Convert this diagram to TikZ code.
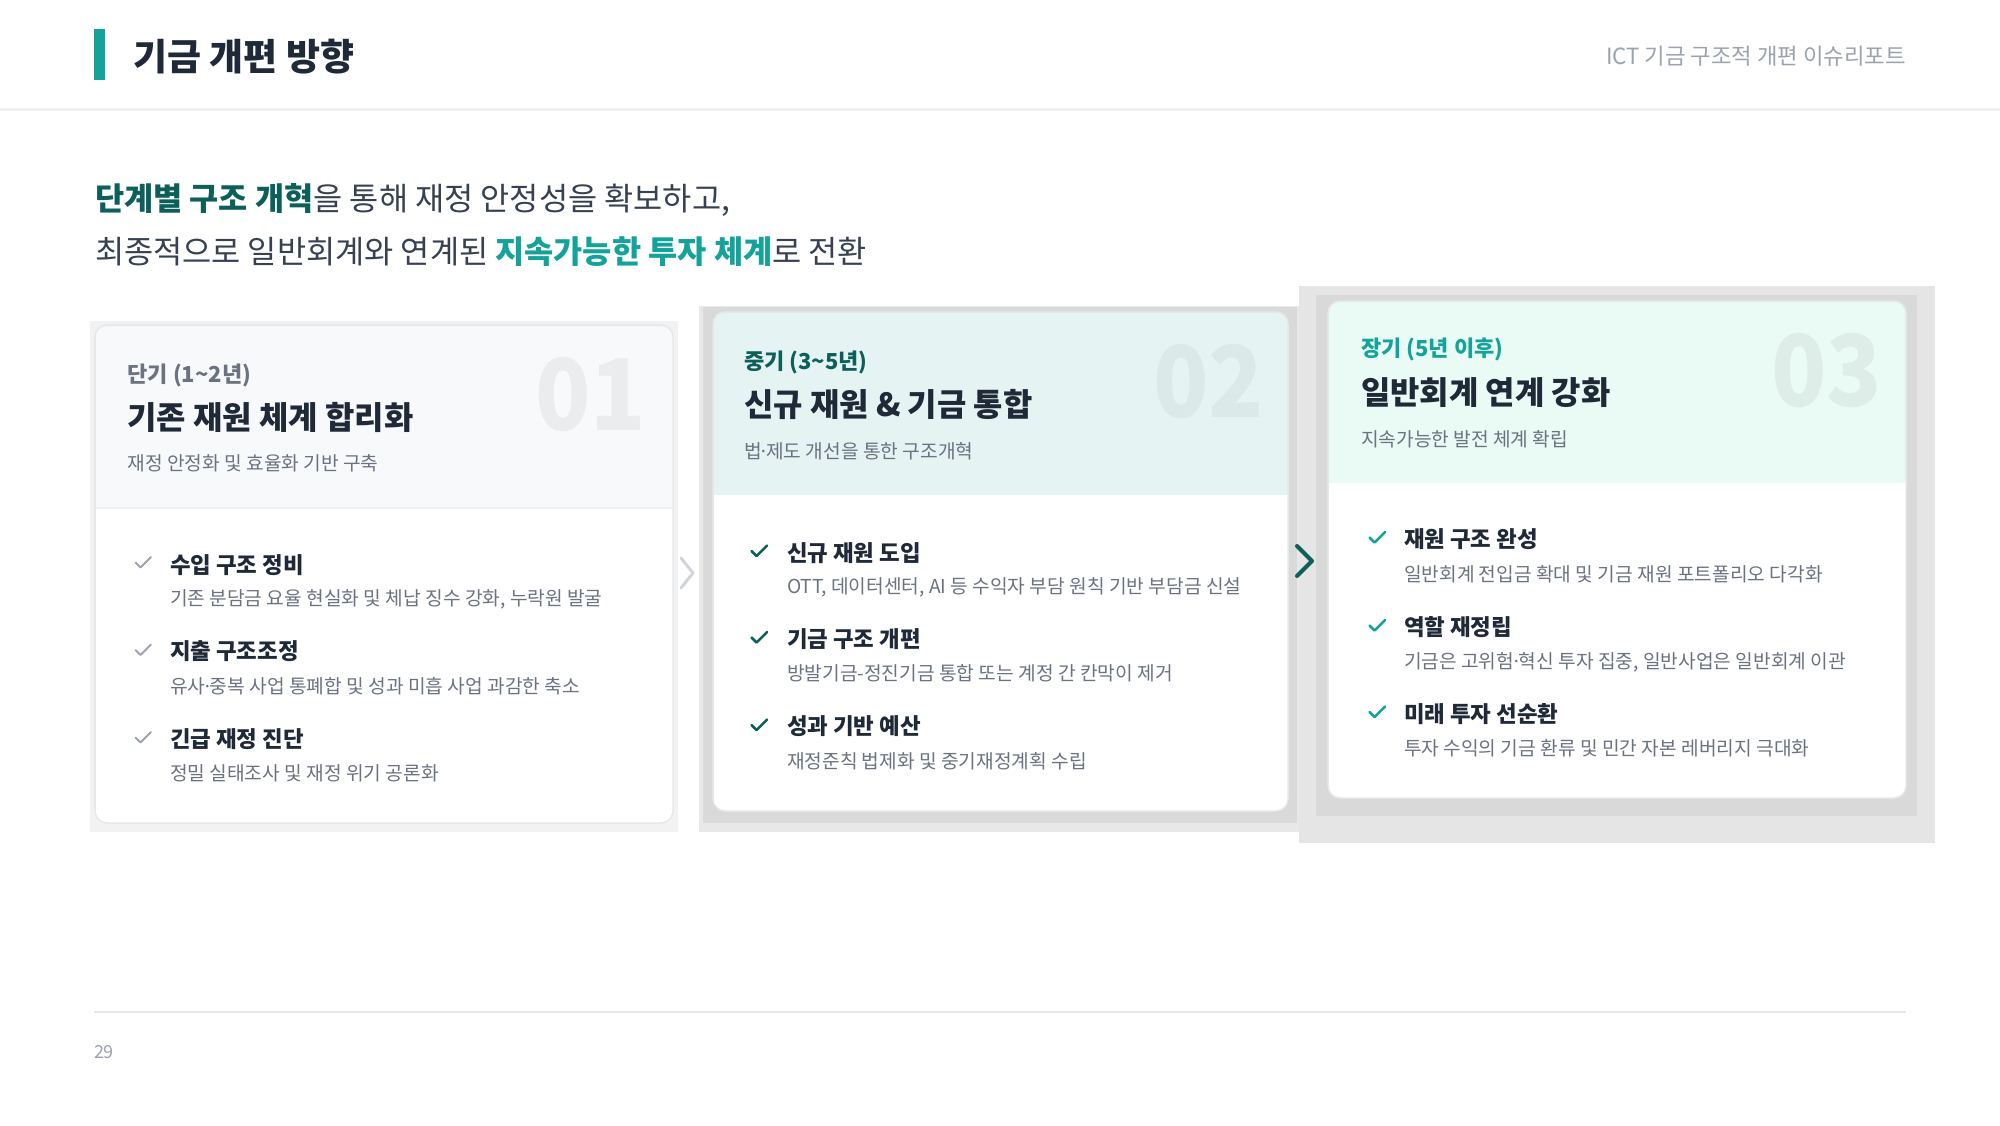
\documentclass[tikz,border=0pt]{standalone}
\usepackage{fontspec}
\setmainfont{Noto Sans CJK KR}
\newfontfamily\numfont{Noto Sans CJK KR}[FakeStretch=0.92]
\definecolor{teal1}{HTML}{14A39A}
\definecolor{tealdark}{HTML}{0D5F5A}
\definecolor{ink}{HTML}{1F2937}
\definecolor{bodytext}{HTML}{374151}
\definecolor{muted}{HTML}{6B7280}
\definecolor{faint}{HTML}{9CA3AF}
\definecolor{headA}{HTML}{F8F9FA}
\definecolor{headB}{HTML}{E5F3F3}
\definecolor{headC}{HTML}{EAFAF4}
\definecolor{shA}{HTML}{F2F2F2}
\definecolor{shB}{HTML}{E8E8E8}
\definecolor{shC}{HTML}{D9D9D9}
\definecolor{shD}{HTML}{E5E5E5}
\definecolor{cardline}{HTML}{E5E7EB}
\definecolor{sepline}{HTML}{EEF0F2}
\definecolor{chevlight}{HTML}{D1D5DB}
\newcommand\pxs[1]{\fontsize{#1}{#1}\selectfont}
\newcommand\mdot{\kern-0.16em·\kern-0.16em}
\begin{document}
\begin{tikzpicture}[x=1pt,y=-1pt,
  every node/.style={inner sep=0pt,outer sep=0pt},
  txt/.style={anchor=base west},
  lbl/.style={txt,font=\pxs{22}\bfseries},
  ttl/.style={txt,font=\pxs{31.9}\bfseries,text=ink},
  sub/.style={txt,font=\pxs{19.2},text=muted},
  itt/.style={txt,font=\pxs{22.4}\bfseries,text=ink},
  itd/.style={txt,font=\pxs{19.2},text=muted},
  bignum/.style={anchor=base east,font=\numfont\pxs{99}\bfseries,text=black,text opacity=0.05},
  chk/.style={line width=2.5pt,line cap=round,line join=round},
  cardedge/.style={draw=cardline,line width=1.5pt,rounded corners=12pt}]
\useasboundingbox[fill=white] (0,0) rectangle (2000,1125);

% ---------- page header ----------
\fill[teal1] (94,29) rectangle (105,80);
\node[txt,font=\pxs{37}\bfseries,text=ink] (pagetitle) at (133,70.2) {기금 개편 방향};
\node[anchor=base east,font=\pxs{22.3},text=faint] (report) at (1906,64.5) {ICT 기금 구조적 개편 이슈리포트};
\fill[sepline] (0,107.5) rectangle (2000,110.5);

% ---------- intro ----------
\node[txt,font=\pxs{31.7},text=bodytext] (intro1) at (95,210)
  {\textcolor{tealdark}{\bfseries 단계별 구조 개혁}을 통해 재정 안정성을 확보하고,};
\node[txt,font=\pxs{31.7},text=bodytext] (intro2) at (95,263)
  {최종적으로 일반회계와 연계된 \textcolor{teal1}{\bfseries 지속가능한 투자 체계}로 전환};

% ---------- card 1 ----------
\fill[shA] (90,321) rectangle (678,832);
\begin{scope}
  \clip[rounded corners=12pt] (95,325) rectangle (673,823);
  \fill[white] (95,325) rectangle (673,823);
  \fill[headA] (95,325) rectangle (673,508);
  \draw[sepline,line width=1.2pt] (95,508) -- (673,508);
\end{scope}
\draw[cardedge] (95,325) rectangle (673,823);
\node[bignum] (num1) at (646,430) {01};
\node[lbl,text=muted] (c1label) at (127.5,382.4) {단기 (1\textasciitilde2년)};
\node[ttl] (c1title) at (127.5,429.1) {기존 재원 체계 합리화};
\node[sub] (c1sub) at (127.5,470.9) {재정 안정화 및 효율화 기반 구축};
\draw[chk,faint,line width=2pt,shift={(143,562.5)}] (-7.5,0) -- (-2.5,5) -- (8,-5.5);
\draw[chk,faint,line width=2pt,shift={(143,650)}] (-7.5,0) -- (-2.5,5) -- (8,-5.5);
\draw[chk,faint,line width=2pt,shift={(143,737.5)}] (-7.5,0) -- (-2.5,5) -- (8,-5.5);
\node[itt] (c1i1) at (170,573) {수입 구조 정비};
\node[itd] (c1d1) at (170,605.3) {기존 분담금 요율 현실화 및 체납 징수 강화, 누락원 발굴};
\node[itt] (c1i2) at (170,659.7) {지출 구조조정};
\node[itd] (c1d2) at (170,693) {유사\mdot 중복 사업 통폐합 및 성과 미흡 사업 과감한 축소};
\node[itt] (c1i3) at (170,747.5) {긴급 재정 진단};
\node[itd] (c1d3) at (170,780.8) {정밀 실태조사 및 재정 위기 공론화};

% ---------- card 2 ----------
\fill[shB] (699,306) rectangle (1301,832);
\fill[shC] (703,307) rectangle (1297,823);
\begin{scope}
  \clip[rounded corners=12pt] (713,312) rectangle (1288,811);
  \fill[white] (713,312) rectangle (1288,811);
  \fill[headB] (713,312) rectangle (1288,495);
\end{scope}
\draw[cardedge] (713,312) rectangle (1288,811);
\node[bignum,text opacity=0.04] (num2) at (1264,417) {02};
\node[lbl,text=tealdark] (c2label) at (744,369.8) {중기 (3\textasciitilde5년)};
\node[ttl] (c2title) at (744,416.1) {신규 재원 \& 기금 통합};
\node[sub] (c2sub) at (744,458.3) {법\mdot 제도 개선을 통한 구조개혁};
\draw[chk,tealdark,shift={(759,551)}] (-7.5,0) -- (-2.5,5) -- (8,-5.5);
\draw[chk,tealdark,shift={(759,637.5)}] (-7.5,0) -- (-2.5,5) -- (8,-5.5);
\draw[chk,tealdark,shift={(759,725)}] (-7.5,0) -- (-2.5,5) -- (8,-5.5);
\node[itt] (c2i1) at (787,561) {신규 재원 도입};
\node[itd] (c2d1) at (787,593) {OTT, 데이터센터, AI 등 수익자 부담 원칙 기반 부담금 신설};
\node[itt] (c2i2) at (787,647.5) {기금 구조 개편};
\node[itd] (c2d2) at (787,680.3) {방발기금-정진기금 통합 또는 계정 간 칸막이 제거};
\node[itt] (c2i3) at (787,734.9) {성과 기반 예산};
\node[itd] (c2d3) at (787,768) {재정준칙 법제화 및 중기재정계획 수립};

% ---------- card 3 ----------
\fill[shD] (1299,286) rectangle (1935,843);
\fill[shC] (1316,295) rectangle (1917,816);
\begin{scope}
  \clip[rounded corners=12pt] (1328,301) rectangle (1906,798);
  \fill[white] (1328,301) rectangle (1906,798);
  \fill[headC] (1328,301) rectangle (1906,482.7);
\end{scope}
\draw[cardedge] (1328,301) rectangle (1906,798);
\node[bignum] (num3) at (1882,406) {03};
\node[lbl,text=teal1] (c3label) at (1361,356.8) {장기 (5년 이후)};
\node[ttl] (c3title) at (1361,404.9) {일반회계 연계 강화};
\node[sub] (c3sub) at (1361,446.3) {지속가능한 발전 체계 확립};
\draw[chk,teal1,shift={(1377,537.5)}] (-7.5,0) -- (-2.5,5) -- (8,-5.5);
\draw[chk,teal1,shift={(1377,625.5)}] (-7.5,0) -- (-2.5,5) -- (8,-5.5);
\draw[chk,teal1,shift={(1377,712)}] (-7.5,0) -- (-2.5,5) -- (8,-5.5);
\node[itt] (c3i1) at (1404,547.5) {재원 구조 완성};
\node[itd] (c3d1) at (1404,581.3) {일반회계 전입금 확대 및 기금 재원 포트폴리오 다각화};
\node[itt] (c3i2) at (1404,635.5) {역할 재정립};
\node[itd] (c3d2) at (1404,668.3) {기금은 고위험\mdot 혁신 투자 집중, 일반사업은 일반회계 이관};
\node[itt] (c3i3) at (1404,722.1) {미래 투자 선순환};
\node[itd] (c3d3) at (1404,755.3) {투자 수익의 기금 환류 및 민간 자본 레버리지 극대화};

% ---------- chevrons ----------
\draw[chevlight,line width=3pt,line cap=round,line join=round] (681,558) -- (693,573) -- (681,588);
\draw[tealdark,line width=4pt,line cap=round,line join=round] (1297,546) -- (1312,561) -- (1297,576);

% ---------- footer ----------
\fill[cardline] (94,1010.5) rectangle (1906,1012.5);
\node[txt,font=\pxs{18},text=faint] (pageno) at (94,1058) {29};
\end{tikzpicture}
\end{document}
